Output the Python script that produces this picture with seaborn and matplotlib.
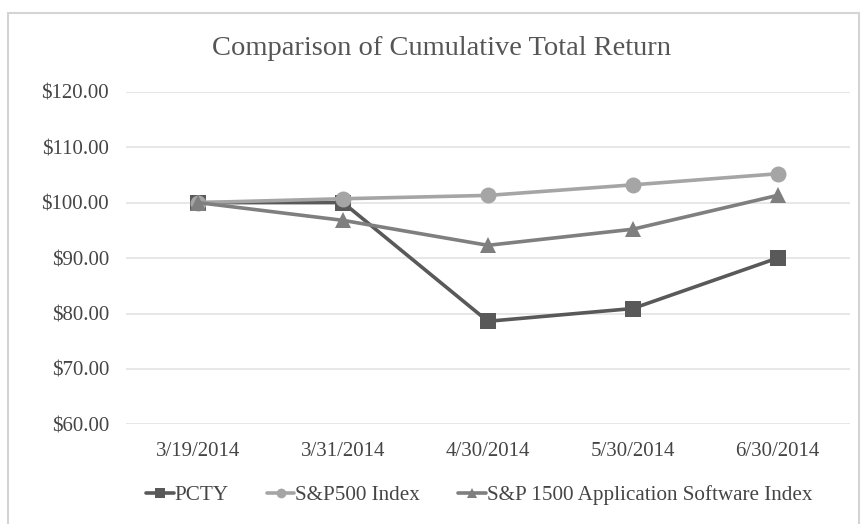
import numpy as np
import pandas as pd
import matplotlib
matplotlib.use("Agg")
import matplotlib.pyplot as plt
import seaborn as sns
from matplotlib.patches import Rectangle

dates = ["3/19/2014", "3/31/2014", "4/30/2014", "5/30/2014", "6/30/2014"]
pcty = [100.0, 100.0, 78.6, 80.9, 90.0]
sp500 = [100.0, 100.7, 101.3, 103.2, 105.2]
sp1500_app = [100.0, 96.8, 92.3, 95.2, 101.3]
series_names = ["PCTY", "S&P500 Index", "S&P 1500 Application Software Index"]

sns.set_theme(style="white")
plt.rcParams["font.family"] = ["Liberation Serif", "DejaVu Serif"]

df = pd.DataFrame({"date": dates * 3,
                   "value": pcty + sp500 + sp1500_app,
                   "series": np.repeat(series_names, len(dates))})

fig = plt.figure(figsize=(8.62, 5.24), dpi=100)
ax = fig.add_axes([0.146, 0.19, 0.84, 0.635])

palette = {"PCTY": "#595959", "S&P500 Index": "#a5a5a5",
           "S&P 1500 Application Software Index": "#7f7f7f"}
markers = {"PCTY": "s", "S&P500 Index": "o",
           "S&P 1500 Application Software Index": "^"}
sns.lineplot(data=df, x="date", y="value", hue="series", style="series",
             palette=palette, markers=markers, dashes=False, sort=False,
             linewidth=2.6, markersize=11.5, markeredgewidth=0, ax=ax)

ax.set_xlim(-0.5, 4.5)
ax.set_ylim(60, 120)
ax.set_yticks(np.arange(60, 121, 10))
ax.set_yticklabels([f"${v:.2f}" for v in np.arange(60, 121, 10)])
ax.yaxis.grid(True, color="#e3e3e3", linewidth=1.2)
ax.set_axisbelow(True)
for s in ax.spines.values():
    s.set_visible(False)
ax.tick_params(axis="both", length=0, labelsize=15, labelcolor="#454545")
ax.tick_params(axis="x", pad=13)
ax.tick_params(axis="y", pad=12)
ax.set_xlabel("")
ax.set_ylabel("")

fig.text(0.512, 0.907, "Comparison of Cumulative Total Return",
         ha="center", va="center", fontsize=20.5, color="#555555")

handles, labels = ax.get_legend_handles_labels()
ax.legend(handles, labels, loc="center", bbox_to_anchor=(0.5, 0.5),
          bbox_transform=fig.transFigure, ncol=3, frameon=False,
          fontsize=15.2, handlelength=1.3, handletextpad=0.05,
          columnspacing=1.8, labelcolor="#454545")
leg = ax.get_legend()
leg.set_bbox_to_anchor((0.556, 0.055), transform=fig.transFigure)
for h in leg.legend_handles:
    h.set_markersize(7)

fig.patches.append(Rectangle((0.009, -0.01), 0.987, 0.985, transform=fig.transFigure,
                             fill=False, edgecolor="#d4d4d4", linewidth=1.5))

fig.savefig("out.png", dpi=100, facecolor="white")
